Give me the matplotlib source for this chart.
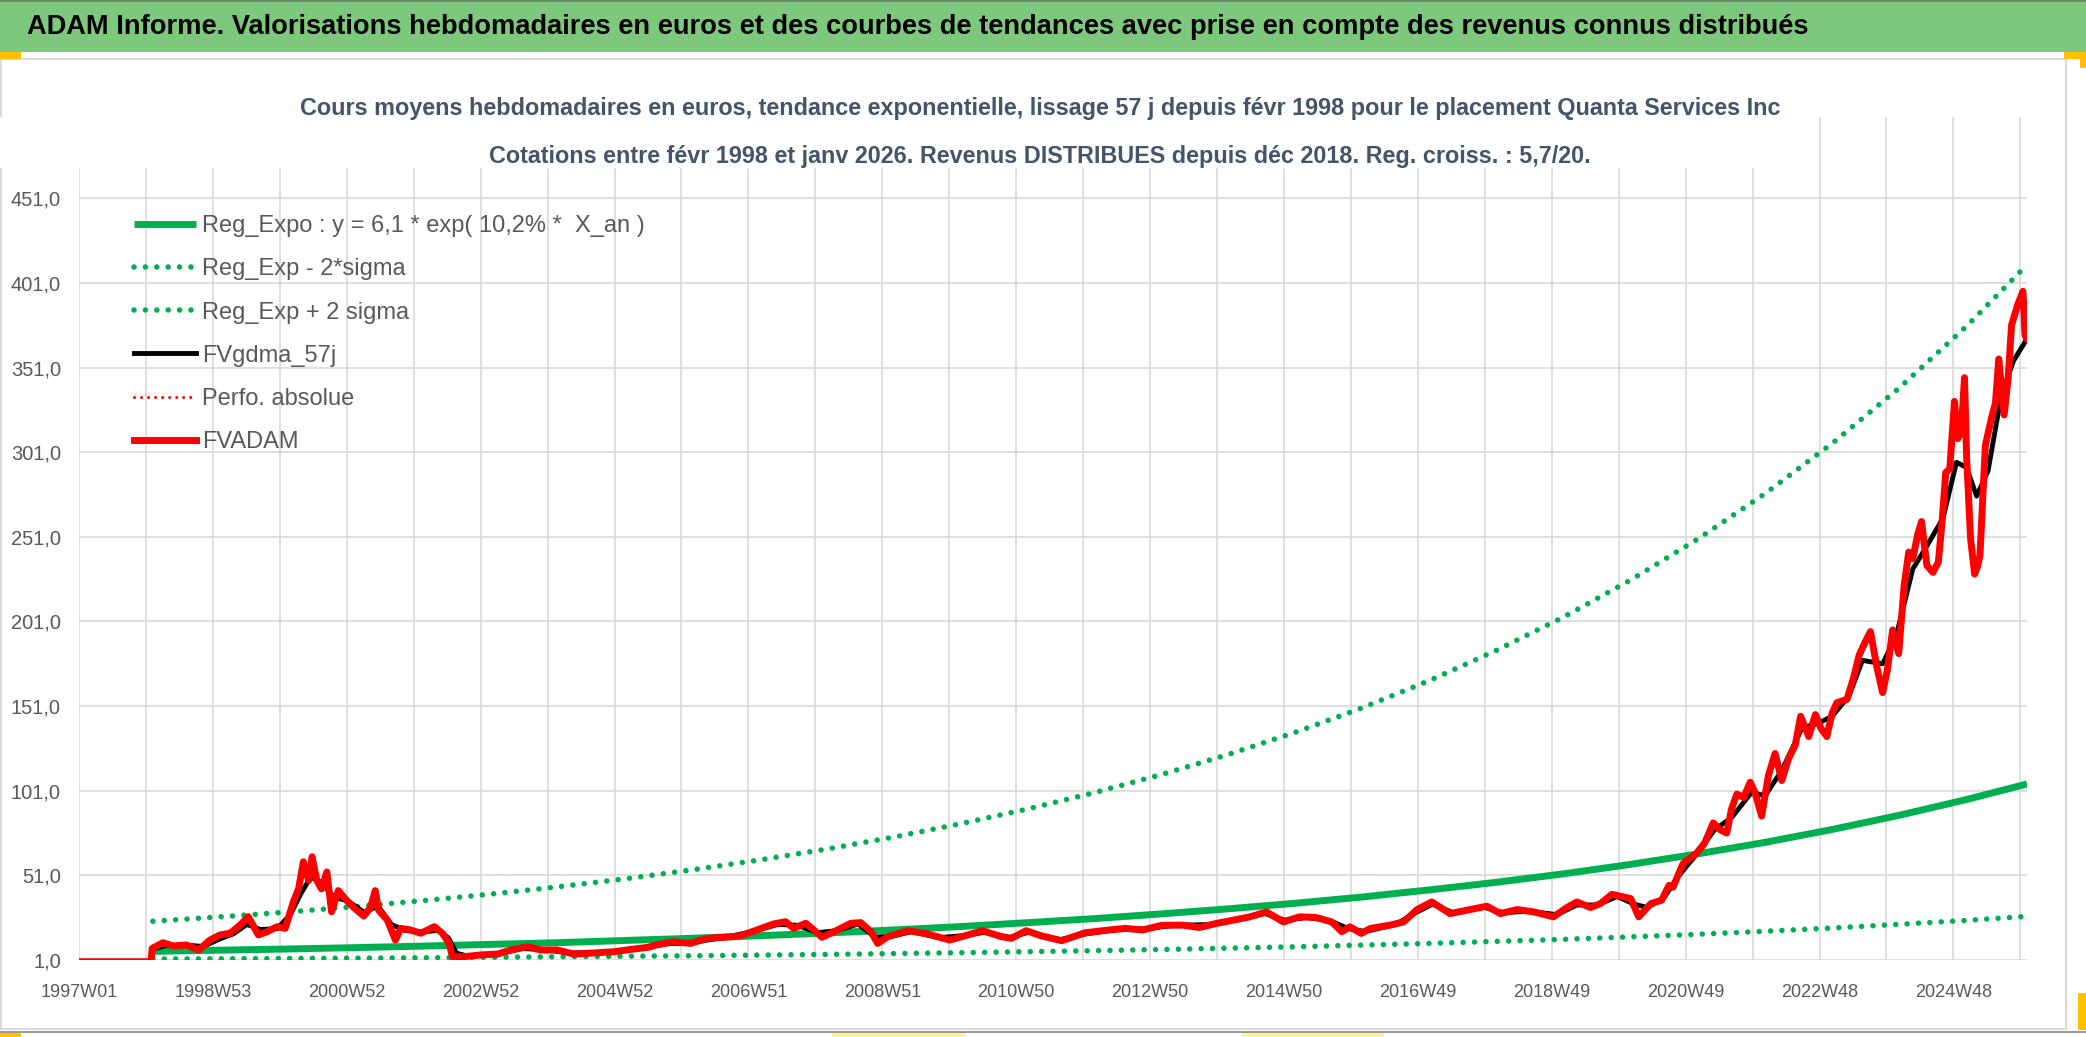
import matplotlib
matplotlib.use("Agg")
import matplotlib.pyplot as plt
from matplotlib.patches import Rectangle

plt.rcParams["font.family"] = ["Liberation Sans", "DejaVu Sans"]

W, H = 2086, 1037

banner_title = ("ADAM Informe. Valorisations hebdomadaires en euros et des courbes "
                "de tendances avec prise en compte des revenus connus distribués")
subtitle_1 = ("Cours moyens hebdomadaires en euros, tendance exponentielle, lissage 57 j "
              "depuis févr 1998 pour le placement Quanta Services Inc")
subtitle_2 = ("Cotations entre févr 1998 et janv 2026. Revenus DISTRIBUES depuis déc 2018. "
              "Reg. croiss. : 5,7/20.")

week_labels = ["1997W01", "1998W53", "2000W52", "2002W52", "2004W52", "2006W51",
               "2008W51", "2010W50", "2012W50", "2014W50", "2016W49", "2018W49",
               "2020W49", "2022W48", "2024W48"]
y_ticks = [1, 51, 101, 151, 201, 251, 301, 351, 401, 451]

legend_labels = ["Reg_Expo : y = 6,1 * exp( 10,2% *  X_an )", "Reg_Exp - 2*sigma",
                 "Reg_Exp + 2 sigma", "FVgdma_57j", "Perfo. absolue", "FVADAM"]

# trend curves, one reading per year (decimal years)
trend_years = [1998.1, 1999.1, 2000.1, 2001.1, 2002.1, 2003.1, 2004.1, 2005.1, 2006.1,
               2007.1, 2008.1, 2009.1, 2010.1, 2011.1, 2012.1, 2013.1, 2014.1, 2015.1,
               2016.1, 2017.1, 2018.1, 2019.1, 2020.1, 2021.1, 2022.1, 2023.1, 2024.1,
               2025.1, 2026.0]
reg_expo = [6.1, 6.8, 7.5, 8.3, 9.2, 10.2, 11.2, 12.5, 13.8, 15.3, 16.9, 18.7, 20.7,
            23.0, 25.4, 28.2, 31.2, 34.5, 38.2, 42.4, 46.9, 51.9, 57.5, 63.7, 70.5,
            78.1, 86.5, 95.8, 105.0]
reg_lo = [1.6, 1.7, 1.9, 2.1, 2.3, 2.6, 2.9, 3.2, 3.5, 3.9, 4.3, 4.8, 5.3, 5.9, 6.5,
          7.2, 8.0, 8.8, 9.8, 10.8, 12.0, 13.2, 14.7, 16.2, 18.0, 19.9, 22.1, 24.4, 26.8]
reg_hi = [23.9, 26.5, 29.3, 32.5, 36.0, 39.8, 44.1, 48.8, 54.1, 59.9, 66.3, 73.4, 81.3,
          90.0, 99.7, 110.4, 122.3, 135.4, 149.9, 166.0, 183.9, 203.6, 225.5, 249.7,
          276.5, 306.2, 339.0, 375.4, 411.7]

fvadam_years = [1997.0, 1998.07, 1998.09, 1998.25, 1998.40, 1998.60, 1998.78, 1998.95,
                1999.10, 1999.25, 1999.40, 1999.52, 1999.67, 1999.80, 1999.95, 2000.07,
                2000.20, 2000.27, 2000.34, 2000.42, 2000.47, 2000.54, 2000.61, 2000.69,
                2000.76, 2000.86, 2000.99, 2001.09, 2001.24, 2001.34, 2001.41, 2001.46,
                2001.59, 2001.71, 2001.79, 2001.94, 2002.09, 2002.29, 2002.41, 2002.51,
                2002.56, 2002.74, 2002.98, 2003.23, 2003.43, 2003.68, 2003.87, 2004.12,
                2004.37, 2004.72, 2004.97, 2005.22, 2005.47, 2005.60, 2005.85, 2006.10,
                2006.35, 2006.60, 2006.84, 2007.09, 2007.34, 2007.52, 2007.64, 2007.82,
                2007.94, 2008.06, 2008.24, 2008.49, 2008.64, 2008.79, 2008.89, 2009.04,
                2009.34, 2009.63, 2009.96, 2010.18, 2010.45, 2010.73, 2010.88, 2011.10,
                2011.33, 2011.63, 2011.98, 2012.33, 2012.58, 2012.83, 2013.12, 2013.43,
                2013.68, 2013.93, 2014.18, 2014.43, 2014.68, 2014.93, 2015.17, 2015.42,
                2015.65, 2015.80, 2015.92, 2016.09, 2016.22, 2016.52, 2016.72, 2016.92,
                2017.14, 2017.41, 2017.71, 2017.96, 2018.16, 2018.41, 2018.66, 2018.95,
                2019.15, 2019.30, 2019.50, 2019.65, 2019.82, 2020.10, 2020.22, 2020.40,
                2020.56, 2020.67, 2020.73, 2020.88, 2020.98, 2021.08, 2021.20, 2021.33,
                2021.43, 2021.53, 2021.60, 2021.68, 2021.78, 2021.88, 2021.95, 2022.05,
                2022.15, 2022.25, 2022.35, 2022.45, 2022.55, 2022.63, 2022.75, 2022.85,
                2022.93, 2023.02, 2023.10, 2023.17, 2023.32, 2023.42, 2023.50, 2023.58,
                2023.67, 2023.76, 2023.85, 2023.92, 2024.00, 2024.09, 2024.17, 2024.24,
                2024.30, 2024.37, 2024.43, 2024.51, 2024.60, 2024.68, 2024.74, 2024.79,
                2024.85, 2024.92, 2024.97, 2025.02, 2025.07, 2025.10, 2025.16, 2025.22,
                2025.26, 2025.30, 2025.38, 2025.47, 2025.53, 2025.58, 2025.66, 2025.72,
                2025.77, 2025.86, 2025.94, 2025.97, 2026.00]
fvadam = [0, 0, 7.9, 11.2, 9.3, 9.9, 6.9, 12.8,
          15.8, 16.8, 21.7, 26.6, 15.8, 17.7, 20.7, 19.7,
          36.4, 43.3, 59.0, 48.0, 62.0, 48.0, 43.0, 53.0,
          29.5, 42.0, 36.0, 32.0, 27.0, 32.0, 42.0, 30.5,
          24.6, 12.8, 19.7, 18.7, 16.8, 20.7, 16.8, 10.8,
          3.0, 3.0, 4.0, 4.5, 6.9, 8.9, 6.9, 6.9,
          4.5, 5.3, 5.9, 7.3, 8.5, 9.9, 11.8, 10.8,
          13.8, 14.4, 15.2, 18.7, 22.3, 23.6, 19.7, 22.7,
          18.7, 14.4, 17.7, 22.7, 23.1, 17.7, 10.8, 14.8,
          18.3, 16.4, 12.8, 15.2, 18.3, 14.8, 13.8, 18.3,
          15.2, 12.4, 17.1, 18.7, 19.7, 18.7, 21.5, 21.6,
          20.2, 22.6, 24.5, 26.5, 29.4, 23.5, 26.5, 26.1,
          23.5, 17.7, 20.6, 16.7, 19.6, 21.6, 23.5, 30.8,
          35.3, 28.4, 30.8, 32.8, 28.4, 30.8, 29.4, 26.5,
          32.0, 35.3, 32.0, 34.3, 39.8, 37.3, 26.5, 34.3,
          36.3, 45.1, 44.0, 58.0, 61.0, 64.0, 70.0, 82.0,
          78.0, 76.0, 90.0, 99.0, 97.0, 106.0, 100.0, 86.0,
          110.0, 123.0, 107.0, 120.0, 128.0, 145.0, 133.0, 146.0,
          138.0, 133.0, 147.0, 153.0, 155.0, 168.0, 181.0, 188.0,
          195.0, 175.0, 159.0, 172.0, 196.0, 182.0, 222.0, 242.0,
          238.0, 252.0, 260.0, 234.0, 230.0, 236.0, 262.0, 289.0,
          291.0, 331.0, 309.0, 313.0, 345.0, 299.0, 250.0, 229.0,
          233.0, 240.0, 305.0, 321.0, 330.0, 356.0, 323.0, 345.0,
          376.0, 388.0, 396.0, 370.0, 368.0]

gdma_years = [1998.09, 1998.3, 1998.6, 1998.85, 1999.1, 1999.3, 1999.5, 1999.7, 1999.95,
              2000.15, 2000.3, 2000.45, 2000.6, 2000.8, 2001.0, 2001.25, 2001.45, 2001.65,
              2001.85, 2002.1, 2002.35, 2002.5, 2002.62, 2002.8, 2003.2, 2003.6, 2003.9,
              2004.3, 2004.8, 2005.3, 2005.7, 2006.1, 2006.6, 2007.0, 2007.4, 2007.7,
              2008.0, 2008.3, 2008.6, 2008.85, 2009.1, 2009.4, 2009.8, 2010.2, 2010.5,
              2010.85, 2011.15, 2011.6, 2012.0, 2012.4, 2012.9, 2013.3, 2013.9, 2014.3,
              2014.65, 2014.95, 2015.3, 2015.65, 2015.9, 2016.15, 2016.6, 2016.9, 2017.15,
              2017.45, 2017.9, 2018.2, 2018.6, 2019.0, 2019.3, 2019.6, 2019.9, 2020.15,
              2020.35, 2020.6, 2020.8, 2021.05, 2021.35, 2021.6, 2021.9, 2022.1, 2022.35,
              2022.65, 2022.9, 2023.1, 2023.35, 2023.55, 2023.85, 2024.05, 2024.3, 2024.5,
              2024.75, 2024.95, 2025.1, 2025.25, 2025.42, 2025.62, 2025.8, 2026.0]
gdma = [7.5, 9.5, 9.8, 9.0, 13.5, 16.5, 22.0, 19.0, 19.5,
        28.0, 40.0, 50.0, 47.0, 38.0, 36.0, 29.0, 33.0, 22.0,
        18.5, 17.5, 18.5, 14.0, 5.0, 3.2, 4.3, 7.8, 7.2,
        5.2, 5.4, 7.5, 10.5, 11.2, 14.3, 17.5, 22.0, 21.5,
        17.0, 18.5, 22.3, 14.5, 15.0, 17.8, 14.2, 15.5, 17.5,
        14.3, 17.5, 13.0, 16.5, 18.8, 19.5, 21.5, 22.0, 25.5,
        28.5, 24.5, 26.2, 23.8, 19.5, 17.8, 22.0, 29.0, 34.0,
        29.0, 32.3, 29.0, 29.8, 27.8, 33.5, 33.5, 38.5, 34.0,
        32.0, 38.0, 50.0, 62.0, 78.0, 85.0, 100.0, 98.0, 113.0,
        138.0, 141.0, 145.0, 157.0, 178.0, 176.0, 192.0, 232.0, 245.0,
        262.0, 295.0, 292.0, 275.0, 290.0, 335.0, 355.0, 368.0]

GREEN = "#00B050"
RED = "#FF0000"
GRID = "#D9D9D9"
TXT = "#595959"
ORANGE = "#FFC000"


def fx(px):
    return px / W


def fy(py):
    return 1 - py / H


def week_to_year(label):
    return int(label[:4]) + (int(label[5:]) - 1) * 7 / 365.25


def deco(x0, y0, x1, y1, color, z=1, **kw):
    # rectangle given in reference pixels (top-left origin)
    fig.add_artist(Rectangle((fx(x0), fy(y1)), fx(x1 - x0), (y1 - y0) / H,
                             transform=fig.transFigure, facecolor=color,
                             zorder=z, **kw))


fig = plt.figure(figsize=(W / 100, H / 100), dpi=100)
fig.patch.set_facecolor("white")

# banner and sheet decorations
deco(0, 0, W, 52, "#7DC87D", edgecolor="none")
deco(0, 0, W, 2, "#6E8A6E", edgecolor="none")
deco(1, 59, 2066, 1029, "none", edgecolor="#D9D9D9", lw=1.5)
deco(0, 52, 21, 59, ORANGE, edgecolor="none")
deco(2064, 52, W, 59, ORANGE, edgecolor="none")
deco(2080, 52, W, 68, ORANGE, edgecolor="none")
deco(2078, 993, W, 1030, ORANGE, edgecolor="none")
deco(0, 1031, 21, H, ORANGE, edgecolor="none")
deco(0, 1031, W, 1033, "#9A9A9A", edgecolor="none")
deco(832, 1033, 966, H, "#FFF29A", edgecolor="none")
deco(1242, 1033, 1384, H, "#FFF29A", edgecolor="none")

fig.text(fx(27), fy(27), banner_title, ha="left", va="center", fontsize=19.6,
         fontweight="bold", color="black", zorder=3)

ax = fig.add_axes([fx(79), fy(960), fx(2027 - 79), (960 - 117) / H])
ax.set_facecolor("white")

ax.plot(trend_years, reg_expo, color=GREEN, lw=5, solid_capstyle="butt",
        label=legend_labels[0], zorder=2)
ax.plot(trend_years, reg_lo, color=GREEN, lw=4, dashes=(0.001, 2.05),
        dash_capstyle="round", label=legend_labels[1], zorder=2)
ax.plot(trend_years, reg_hi, color=GREEN, lw=4, dashes=(0.001, 2.05),
        dash_capstyle="round", label=legend_labels[2], zorder=2)
ax.plot(gdma_years, gdma, color="black", lw=3.5, label=legend_labels[3], zorder=3)
ax.plot([], [], color=RED, lw=2.2, dashes=(0.001, 2.3), dash_capstyle="round",
        label=legend_labels[4], zorder=3)
ax.plot(fvadam_years, fvadam, color=RED, lw=5, solid_joinstyle="round",
        label=legend_labels[5], zorder=4)

# category-like weekly axis: a gridline every 52 weeks, a label every 104
grid_x = [1997 + k * 364 / 365.25 for k in range(30)]
ax.set_xticks(grid_x)
ax.set_xticklabels([week_labels[k // 2] if k % 2 == 0 else "" for k in range(30)])
ax.set_xlim(week_to_year(week_labels[0]), 2026.0)
ax.set_ylim(1, 499)
ax.set_yticks(y_ticks)
ax.set_yticklabels([f"{v:.1f}".replace(".", ",") for v in y_ticks])
ax.grid(True, color=GRID, lw=1.2, zorder=0)
ax.set_axisbelow(True)
ax.tick_params(axis="both", length=0, colors=TXT)
ax.tick_params(axis="y", labelsize=14.5, pad=13)
ax.tick_params(axis="x", labelsize=13, pad=17)
for sp in ax.spines.values():
    sp.set_visible(False)

ax.legend(loc="upper left", bbox_to_anchor=(fx(134), fy(215)),
          bbox_transform=fig.transFigure, frameon=False, fontsize=17,
          handlelength=2.63, handletextpad=0.25, labelspacing=0.90,
          borderpad=0, borderaxespad=0, labelcolor=TXT)

# title block sits over the top of the gridlines like a chart title box
deco(0, 117, 1817, 168, "white", z=1.5, edgecolor="none")
fig.text(0.4986, fy(108), subtitle_1, ha="center", va="center", fontsize=16.8,
         fontweight="bold", color="#44546A", zorder=3)
fig.text(0.4986, fy(156), subtitle_2, ha="center", va="center", fontsize=16.8,
         fontweight="bold", color="#44546A", zorder=3)

fig.savefig("out.png", dpi=100)
